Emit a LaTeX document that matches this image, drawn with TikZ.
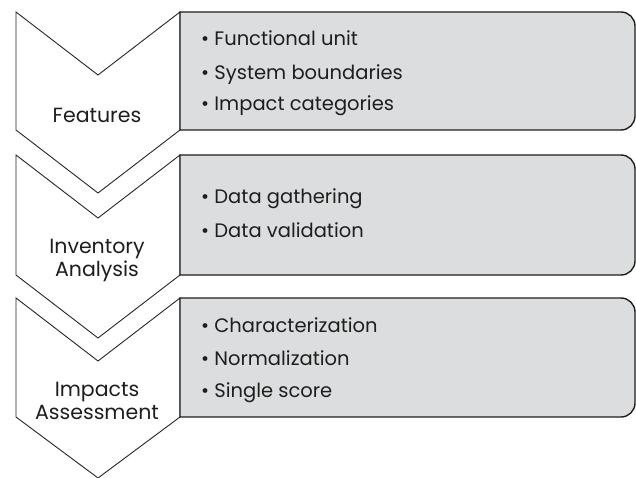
\documentclass[tikz,border=0pt]{standalone}
\usepackage{fontspec}
\setmainfont{Poppins}
\definecolor{boxgray}{RGB}{220,221,222}
\definecolor{inkgray}{RGB}{30,30,30}
\begin{document}
\begin{tikzpicture}[x=1pt, y=-1pt,
    chevron/.style={draw=black!85, line width=0.9pt, fill=white, line join=miter},
    itembox/.style={draw=inkgray, line width=1.4pt, fill=boxgray},
    stage/.style={text=inkgray, font=\fontsize{20.5}{22.5}\selectfont, align=center, inner sep=0pt},
    item/.style={text=inkgray, font=\fontsize{19.5}{22}\selectfont, anchor=base west, inner sep=0pt}]
    \useasboundingbox (0,0) rectangle (636,478);

    % Draw the chevrons, top to bottom
    \draw[chevron] (16,12) -- (98,75) -- (180,12) -- (180,130) -- (98,193) -- (16,130) -- cycle;
    \draw[chevron] (16,155) -- (98,218) -- (180,155) -- (180,275) -- (98,338) -- (16,275) -- cycle;
    \draw[chevron] (16,298) -- (98,361) -- (180,298) -- (180,417) -- (98,478) -- (16,417) -- cycle;

    % Draw the boxes, rounded on the right side only
    \draw[itembox] (180,12) -- (621,12) arc (-90:0:14) -- (635,116) arc (0:90:14) -- (180,130) -- cycle;
    \draw[itembox] (180,155) -- (621,155) arc (-90:0:14) -- (635,261) arc (0:90:14) -- (180,275) -- cycle;
    \draw[itembox] (180,298) -- (621,298) arc (-90:0:14) -- (635,403) arc (0:90:14) -- (180,417) -- cycle;

    % Stage names (base is the last line)
    \node[stage, anchor=base] (features) at (97,123) {Features};
    \node[stage, anchor=base] (inventory) at (97,276) {Inventory\\Analysis};
    \node[stage, anchor=base] (impacts) at (97,419) {Impacts\\Assessment};

    % Items of each stage
    \node[item] (unit) at (201,46) {• Functional unit};
    \node[item] (bounds) at (201,80) {• System boundaries};
    \node[item] (categories) at (201,111) {• Impact categories};

    \node[item] (gathering) at (201,204) {• Data gathering};
    \node[item] (validation) at (201,237) {• Data validation};

    \node[item] (character) at (201,332) {• Characterization};
    \node[item] (normal) at (201,365) {• Normalization};
    \node[item] (score) at (201,397) {• Single score};
\end{tikzpicture}
\end{document}
